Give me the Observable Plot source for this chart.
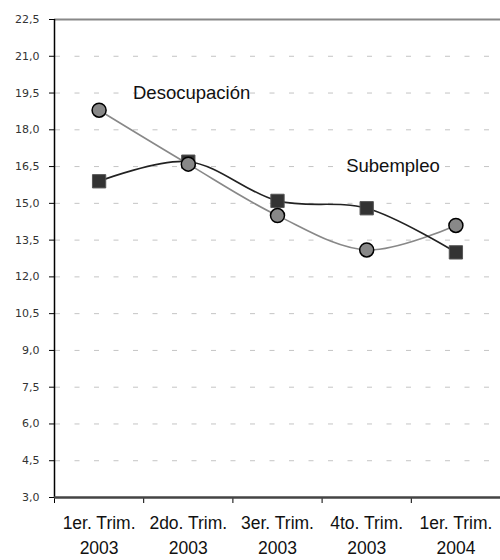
<!DOCTYPE html>
<html>
<head>
<meta charset="utf-8">
<script src="https://cdn.jsdelivr.net/npm/d3@7"></script>
<script src="https://cdn.jsdelivr.net/npm/@observablehq/plot@0.6"></script>
<style>
  html, body { margin: 0; padding: 0; background: white; }
</style>
</head>
<body>
<div id="chart"></div>
<script>
const quarters = ["1er. Trim.", "2do. Trim.", "3er. Trim.", "4to. Trim.", "1er. Trim."];
const years = ["2003", "2003", "2003", "2003", "2004"];
const desocupacion = [18.8, 16.6, 14.5, 13.1, 14.1];
const subempleo = [15.9, 16.7, 15.1, 14.8, 13.0];
const yTicks = [3, 4.5, 6, 7.5, 9, 10.5, 12, 13.5, 15, 16.5, 18, 19.5, 21, 22.5];
const seriesLabels = ["Desocupación", "Subempleo"];

const centers = quarters.map((_, i) => i + 0.5);
const bounds = d3.range(quarters.length + 1);
const des = desocupacion.map((v, i) => ({x: i + 0.5, y: v}));
const sub = subempleo.map((v, i) => ({x: i + 0.5, y: v}));

const chart = Plot.plot({
  width: 500,
  height: 560,
  marginLeft: 54,
  marginRight: 0,
  marginTop: 19,
  marginBottom: 63,
  style: {fontFamily: "'Liberation Sans', Arial, sans-serif", background: "white", overflow: "visible"},
  x: {domain: [0, quarters.length]},
  y: {domain: [3, 22.5]},
  marks: [
    Plot.ruleY(yTicks.slice(1, -1), {stroke: "#c4c4c4", strokeDasharray: "5,14.5", strokeDashoffset: -1}),
    Plot.ruleY([22.5], {stroke: "#888", strokeWidth: 2}),
    Plot.axisY({
      ticks: yTicks, tickSize: 5, tickPadding: 10,
      tickFormat: d => d.toFixed(1).replace(".", ","),
      fontSize: 11, fontFamily: "'DejaVu Sans', Verdana, sans-serif",
      color: "#333", stroke: "#000", label: null
    }),
    Plot.axisX({ticks: bounds, tickSize: 6, tickFormat: () => "", stroke: "#000", label: null}),
    Plot.axisX({
      ticks: centers, tickSize: 0, tickPadding: 14,
      tickFormat: d => quarters[Math.round(d - 0.5)] + "\n" + years[Math.round(d - 0.5)],
      fontSize: 17.5, lineHeight: 1.43, fill: "#111", label: null
    }),
    Plot.ruleX([0], {y1: 3, y2: 22.5, stroke: "#000", strokeWidth: 1.5}),
    Plot.ruleY([3], {stroke: "#444", strokeWidth: 2.5}),
    Plot.line(des, {x: "x", y: "y", curve: "catmull-rom", stroke: "#888", strokeWidth: 1.6}),
    Plot.line(sub, {x: "x", y: "y", curve: "catmull-rom", stroke: "#222", strokeWidth: 1.6}),
    Plot.dot(sub, {x: "x", y: "y", symbol: "square", r: 7.5, fill: "#333", stroke: "#555", strokeWidth: 1}),
    Plot.dot(des, {x: "x", y: "y", symbol: "circle", r: 7, fill: "#888", stroke: "#000", strokeWidth: 1.5}),
    Plot.text([seriesLabels[0]], {x: 0.88, y: 19.5, text: d => d, textAnchor: "start", fontSize: 18.5, fill: "#111"}),
    Plot.text([seriesLabels[1]], {x: 3.27, y: 16.5, text: d => d, textAnchor: "start", fontSize: 18.5, fill: "#111"})
  ]
});
document.getElementById("chart").appendChild(chart);
</script>
</body>
</html>
